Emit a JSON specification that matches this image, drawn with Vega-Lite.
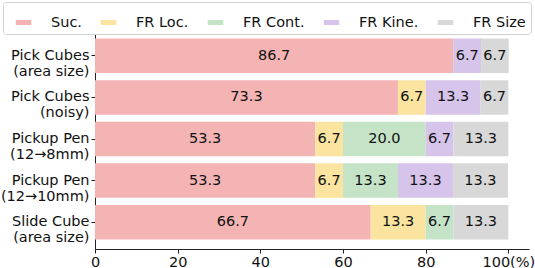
{
  "$schema": "https://vega.github.io/schema/vega-lite/v6.json",
  "autosize": "none",
  "padding": {"left": 95, "top": 29, "right": 6, "bottom": 19},
  "width": 434,
  "height": 220,
  "background": "white",
  "config": {
    "font": "DejaVu Sans",
    "view": {"stroke": null}
  },
  "data": {
    "values": [
      {"task": "Pick Cubes\n(area size)", "cat": "Suc.", "o": 0, "value": 86.7},
      {"task": "Pick Cubes\n(area size)", "cat": "FR Kine.", "o": 3, "value": 6.7},
      {"task": "Pick Cubes\n(area size)", "cat": "FR Size", "o": 4, "value": 6.7},
      {"task": "Pick Cubes\n(noisy)", "cat": "Suc.", "o": 0, "value": 73.3},
      {"task": "Pick Cubes\n(noisy)", "cat": "FR Loc.", "o": 1, "value": 6.7},
      {"task": "Pick Cubes\n(noisy)", "cat": "FR Kine.", "o": 3, "value": 13.3},
      {"task": "Pick Cubes\n(noisy)", "cat": "FR Size", "o": 4, "value": 6.7},
      {"task": "Pickup Pen\n(12→8mm)", "cat": "Suc.", "o": 0, "value": 53.3},
      {"task": "Pickup Pen\n(12→8mm)", "cat": "FR Loc.", "o": 1, "value": 6.7},
      {"task": "Pickup Pen\n(12→8mm)", "cat": "FR Cont.", "o": 2, "value": 20.0},
      {"task": "Pickup Pen\n(12→8mm)", "cat": "FR Kine.", "o": 3, "value": 6.7},
      {"task": "Pickup Pen\n(12→8mm)", "cat": "FR Size", "o": 4, "value": 13.3},
      {"task": "Pickup Pen\n(12→10mm)", "cat": "Suc.", "o": 0, "value": 53.3},
      {"task": "Pickup Pen\n(12→10mm)", "cat": "FR Loc.", "o": 1, "value": 6.7},
      {"task": "Pickup Pen\n(12→10mm)", "cat": "FR Cont.", "o": 2, "value": 13.3},
      {"task": "Pickup Pen\n(12→10mm)", "cat": "FR Kine.", "o": 3, "value": 13.3},
      {"task": "Pickup Pen\n(12→10mm)", "cat": "FR Size", "o": 4, "value": 13.3},
      {"task": "Slide Cube\n(area size)", "cat": "Suc.", "o": 0, "value": 66.7},
      {"task": "Slide Cube\n(area size)", "cat": "FR Loc.", "o": 1, "value": 13.3},
      {"task": "Slide Cube\n(area size)", "cat": "FR Cont.", "o": 2, "value": 6.7},
      {"task": "Slide Cube\n(area size)", "cat": "FR Size", "o": 4, "value": 13.3}
    ]
  },
  "transform": [
    {"stack": "value", "groupby": ["task"], "sort": [{"field": "o", "order": "ascending"}], "as": ["x0", "x1"]},
    {"calculate": "(datum.x0 + datum.x1) / 2", "as": "xm"}
  ],
  "encoding": {
    "y": {
      "field": "task",
      "type": "nominal",
      "sort": ["Pick Cubes\n(area size)", "Pick Cubes\n(noisy)", "Pickup Pen\n(12→8mm)", "Pickup Pen\n(12→10mm)", "Slide Cube\n(area size)"],
      "scale": {"paddingInner": 0.17, "paddingOuter": 0.23},
      "axis": {
        "title": null,
        "labelExpr": "split(datum.label, '\\n')",
        "labelFontSize": 14.5,
        "labelColor": "#111",
        "labelLineHeight": 16,
        "labelPadding": 2,
        "tickSize": 4,
        "tickColor": "#222",
        "domainColor": "#222",
        "labelAlign": "right",
        "labelBaseline": "middle"
      }
    }
  },
  "layer": [
    {
      "mark": {"type": "bar", "cornerRadius": 0},
      "encoding": {
        "x": {
          "field": "x0",
          "type": "quantitative",
          "scale": {"domain": [0, 105], "nice": false, "zero": true},
          "axis": {
            "title": null,
            "values": [0, 20, 40, 60, 80, 100],
            "grid": false,
            "labelFontSize": 14.5,
            "labelColor": "#111",
            "labelPadding": 2,
            "tickSize": 4,
            "tickColor": "#222",
            "domainColor": "#222",
            "labelExpr": "datum.value == 100 ? '100(%)' : datum.label",
            "labelAlign": "center",
            "labelFlush": false,
            "labelOverlap": false
          }
        },
        "x2": {"field": "x1"},
        "color": {
          "field": "cat",
          "type": "nominal",
          "scale": {
            "domain": ["Suc.", "FR Loc.", "FR Cont.", "FR Kine.", "FR Size"],
            "range": ["#F4B4B4", "#FAE4A0", "#C4E3C7", "#D7C4EB", "#D8D8D8"]
          },
          "legend": {
            "title": null,
            "orient": "none",
            "legendX": -92,
            "legendY": -27,
            "direction": "horizontal",
            "columns": 5,
            "columnPadding": 11,
            "labelFontSize": 14.5,
            "labelColor": "#111",
            "labelOffset": 12,
            "symbolType": "M-0.5,-0.1613H0.5V0.1613H-0.5Z",
            "symbolSize": 961,
            "symbolStrokeWidth": 0,
            "symbolOpacity": 1,
            "padding": 5,
            "strokeColor": "#d0d0d0",
            "fillColor": "white",
            "cornerRadius": 3
          }
        }
      }
    },
    {
      "mark": {"type": "text", "fontSize": 14.5, "color": "#111", "baseline": "middle", "align": "center"},
      "encoding": {
        "x": {"field": "xm", "type": "quantitative"},
        "text": {"field": "value", "type": "quantitative", "format": ".1f"}
      }
    }
  ]
}
